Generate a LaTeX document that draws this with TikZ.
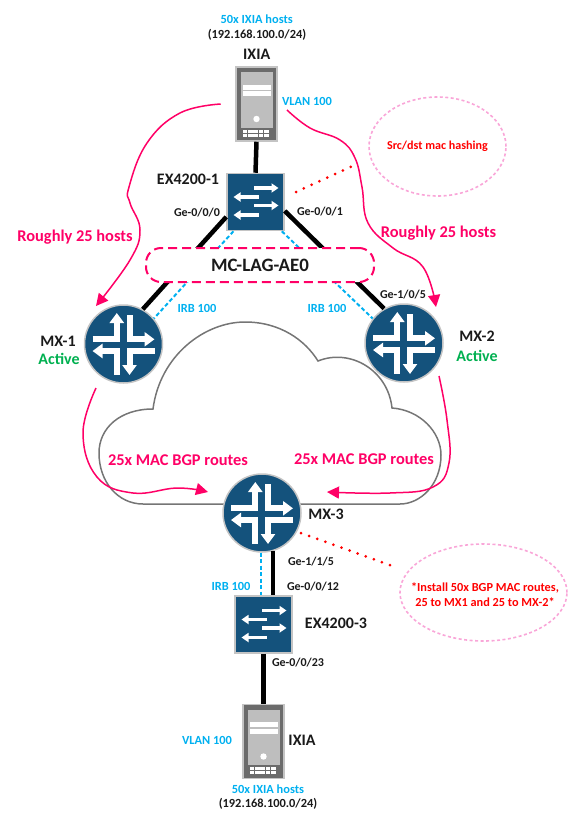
\documentclass[tikz,border=0pt]{standalone}
\usepackage{fontspec}
\setmainfont{Carlito}
\usetikzlibrary{arrows.meta,calc,positioning,shapes.geometric}
\definecolor{junblue}{HTML}{14527C}
\definecolor{iconedge}{HTML}{C4C4C4}
\definecolor{serverdark}{HTML}{6B6B6B}
\definecolor{serverlight}{HTML}{BEBEBE}
\definecolor{hotpink}{HTML}{FF0066}
\definecolor{softpink}{HTML}{F9A6D8}
\definecolor{vlancyan}{HTML}{00B0F0}
\definecolor{activegreen}{HTML}{00B050}
\definecolor{notered}{HTML}{FF0000}
\definecolor{cloudgrey}{HTML}{757575}
\definecolor{textblack}{HTML}{1A1A1A}

\begin{document}
\begin{tikzpicture}[
  x=1pt,
  y=-1pt,
  routernode/.style={
    circle,
    draw=iconedge,
    fill=junblue,
    line width=1.5pt,
    minimum size=78pt,
    inner sep=0pt
  },
  switchnode/.style={
    rectangle,
    draw=iconedge,
    fill=junblue,
    line width=1.5pt,
    minimum size=57pt,
    inner sep=0pt
  },
  servernode/.style={
    rectangle,
    draw=iconedge,
    fill=serverdark,
    line width=1.5pt,
    minimum width=41pt,
    minimum height=74pt,
    inner sep=0pt
  },
  notecloud/.style={
    ellipse,
    draw=softpink,
    line width=1.6pt,
    dash pattern=on 3pt off 2.5pt,
    inner sep=0pt
  },
  notelabel/.style={
    align=center,
    text=notered,
    font=\fontsize{12.3}{15}\selectfont\bfseries
  },
  portlabel/.style={font=\fontsize{12}{13}\selectfont\bfseries,color=textblack},
  devicelabel/.style={font=\fontsize{16}{17}\selectfont\bfseries,color=textblack},
  vlanlabel/.style={font=\fontsize{12.4}{13}\selectfont\bfseries,color=vlancyan},
  activelabel/.style={font=\fontsize{16}{17}\selectfont\bfseries,color=activegreen},
  flowlabel/.style={font=\fontsize{16.4}{18}\selectfont\bfseries,color=hotpink},
  trunklink/.style={line width=4.5pt,color=black},
  irblink/.style={line width=2pt,color=vlancyan,dash pattern=on 4pt off 2.5pt},
  flowarrow/.style={
    line width=1.5pt,
    color=hotpink,
    -{Triangle[length=12pt,width=12pt]}
  },
  redspots/.style={
    line width=3pt,
    color=notered,
    line cap=round,
    dash pattern=on 0pt off 8.6pt
  },
  routericon/.pic={
    \foreach \fromx/\fromy/\tox/\toy in {-6.7/31/-6.7/-31,6/-29/6/31,-31/-4.7/31/-4.7,31/7/-31/7}
      \draw[white,line width=6pt,-{Triangle[length=10pt,width=14pt]}] (\fromx,\fromy) -- (\tox,\toy);
    \fill[junblue] (-3.6,-11) rectangle (3,11);
    \fill[junblue] (-11,-1.6) rectangle (11,4);
  },
  switchicon/.pic={
    \foreach \fromx/\tox/\rowy in {-1.5/23/-14,3/-22/-5,-1.5/23/3.5,3/-22/13}
      \draw[white,line width=3.2pt,-{Triangle[length=7pt,width=9pt]}] (\fromx,\rowy) -- (\tox,\rowy);
  },
  servericon/.pic={
    \fill[serverlight] (-16,-32) rectangle (16,23.5);
    \fill[white] (-14,-19.5) rectangle (14,-14.5);
    \fill[white] (-14,-13) rectangle (14,-8);
    \fill[white] (0,15) circle (3.2);
    \foreach \colx in {-14,-8.6,-3.2,2.2,7.8}
      \foreach \rowy in {25.5,29.5}
        \fill[white] (\colx,\rowy) rectangle ++(4.6,3.2);
  }
]
\useasboundingbox (0,0) rectangle (582,822);

% cloud behind everything
\draw[cloudgrey,line width=1.5pt]
  (153,409) .. controls (160,355) and (205,322) .. (245,322)
  .. controls (280,322) and (305,340) .. (318,361)
  .. controls (350,348) and (388,370) .. (392,408)
  .. controls (420,410) and (441,432) .. (441,455)
  .. controls (441,485) and (420,504) .. (400,504)
  -- (143,504)
  .. controls (118,504) and (99,482) .. (99,453)
  .. controls (99,428) and (120,409) .. (153,409) -- cycle;

% devices
\node[routernode] (mxone) at (123.5,344) {};
\node[routernode] (mxtwo) at (404,343) {};
\node[routernode] (mxthree) at (262,513) {};
\node[switchnode] (extop) at (255.5,202) {};
\node[switchnode] (exbottom) at (263.5,624.5) {};
\node[servernode] (ixiatop) at (256.5,104) {};
\node[servernode] (ixiabottom) at (263.5,741.5) {};

\pic at (mxone) {routericon};
\pic at (mxtwo) {routericon};
\pic at (mxthree) {routericon};
\pic at (extop) {switchicon};
\pic at (exbottom) {switchicon};
\pic at (ixiatop) {servericon};
\pic at (ixiabottom) {servericon};

% links
\draw[trunklink] (ixiatop.south) -- (extop.north);
\draw[trunklink] (extop.207) -- (mxone.61);
\draw[trunklink] (extop.343) -- (mxtwo.120);
\draw[irblink] (extop.233) -- (mxone.40);
\draw[irblink] (extop.312) -- (mxtwo.142);
\draw[trunklink] (mxthree.286) -- (mxthree.286 |- exbottom.north);
\draw[irblink] (mxthree.268) -- (mxthree.268 |- exbottom.north);
\draw[trunklink] (exbottom.south) -- (ixiabottom.north);

\node[draw=hotpink,fill=white,rounded corners=15pt,line width=2pt,
  dash pattern=on 9pt off 5pt,minimum width=228pt,minimum height=34pt,
  font=\fontsize{18.9}{20}\selectfont\bfseries,text=textblack] (mclag) at (260,265) {MC-LAG-AE0};

% notes
\node[notecloud,minimum width=137pt,minimum height=99pt] (hashnote) at (437.5,146.5) {};
\node[notelabel,font=\fontsize{12.1}{14}\selectfont\bfseries] (hashtext) at (hashnote) {Src/dst mac hashing};
\node[notecloud,minimum width=167pt,minimum height=97pt] (routenote) at (483.5,592.5) {};
\node[notelabel] (routetext) at (485,594.5) {*Install 50x BGP MAC routes,\\25 to MX1 and 25 to MX-2*};

\coordinate (hashfrom) at (296,192);
\coordinate (hashto) at (357,164);
\coordinate (routefrom) at (301,533);
\coordinate (routeto) at (398,568);
\draw[redspots] (hashfrom) -- (hashto);
\draw[redspots] (routefrom) -- (routeto);

% pink flows
\coordinate (leftflow) at (220.7,104);
\coordinate (rightflow) at (287,110);
\coordinate (mxoneflow) at (96,388);
\coordinate (mxtwoflow) at (439,376);
\coordinate (mxthreeleft) at (208,492);
\coordinate (mxthreeright) at (327,492);

\draw[flowarrow] plot[smooth,tension=0.7] coordinates
  {(leftflow) (180,113) (147,143) (129,187) (130,203) (140,230) (130,260) (96,306)};
\draw[flowarrow] plot[smooth,tension=0.7] coordinates
  {(rightflow) (310,128) (340,140) (355,158) (362,187) (368,223) (393,248) (423,267) (436,307)};
\draw[flowarrow] plot[smooth,tension=0.7] coordinates
  {(mxoneflow) (83,433) (97,477) (133,493) (177,488) (mxthreeleft)};
\draw[flowarrow] plot[smooth,tension=0.7] coordinates
  {(mxtwoflow) (447,420) (449,463) (433,487) (390,493) (mxthreeright)};

% labels
\node[vlanlabel] (hoststop) at (256.7,19.5) {50x IXIA hosts};
\node[portlabel,font=\fontsize{12.4}{13}\selectfont\bfseries] (subnettop) at (257,35) {(192.168.100.0/24)};
\node[devicelabel] (ixiatoplabel) at (256.7,54) {IXIA};
\node[vlanlabel] (vlantop) at (307,101) {VLAN 100};
\node[devicelabel] (extoplabel) at (188,179) {EX4200-1};
\node[portlabel] (portleft) at (197,213) {Ge-0/0/0};
\node[portlabel] (portright) at (320,212) {Ge-0/0/1};
\node[flowlabel] (hostsleft) at (75,237) {Roughly 25 hosts};
\node[flowlabel] (hostsright) at (438.5,233) {Roughly 25 hosts};
\node[vlanlabel] (irbleft) at (197,308) {IRB 100};
\node[vlanlabel] (irbright) at (327,308) {IRB 100};
\node[devicelabel] (mxonelabel) at (58,341) {MX-1};
\node[activelabel] (mxoneactive) at (59,359) {Active};
\node[devicelabel] (mxtwolabel) at (477,336) {MX-2};
\node[activelabel] (mxtwoactive) at (477,356) {Active};
\node[portlabel] (portmxtwo) at (403,295) {Ge-1/0/5};
\node[flowlabel] (routesleft) at (178,460) {25x MAC BGP routes};
\node[flowlabel] (routesright) at (364,459) {25x MAC BGP routes};
\node[devicelabel] (mxthreelabel) at (326,514) {MX-3};
\node[portlabel] (portmxthree) at (311,562) {Ge-1/1/5};
\node[portlabel] (portexup) at (313,587) {Ge-0/0/12};
\node[vlanlabel] (irbbottom) at (231,586) {IRB 100};
\node[devicelabel] (exbottomlabel) at (336,623) {EX4200-3};
\node[portlabel] (portexdown) at (298,663) {Ge-0/0/23};
\node[vlanlabel] (vlanbottom) at (207,740) {VLAN 100};
\node[devicelabel] (ixiabottomlabel) at (302,740) {IXIA};
\node[vlanlabel] (hostsbottom) at (268,789) {50x IXIA hosts};
\node[portlabel,font=\fontsize{12.4}{13}\selectfont\bfseries] (subnetbottom) at (268,804) {(192.168.100.0/24)};
\end{tikzpicture}
\end{document}
